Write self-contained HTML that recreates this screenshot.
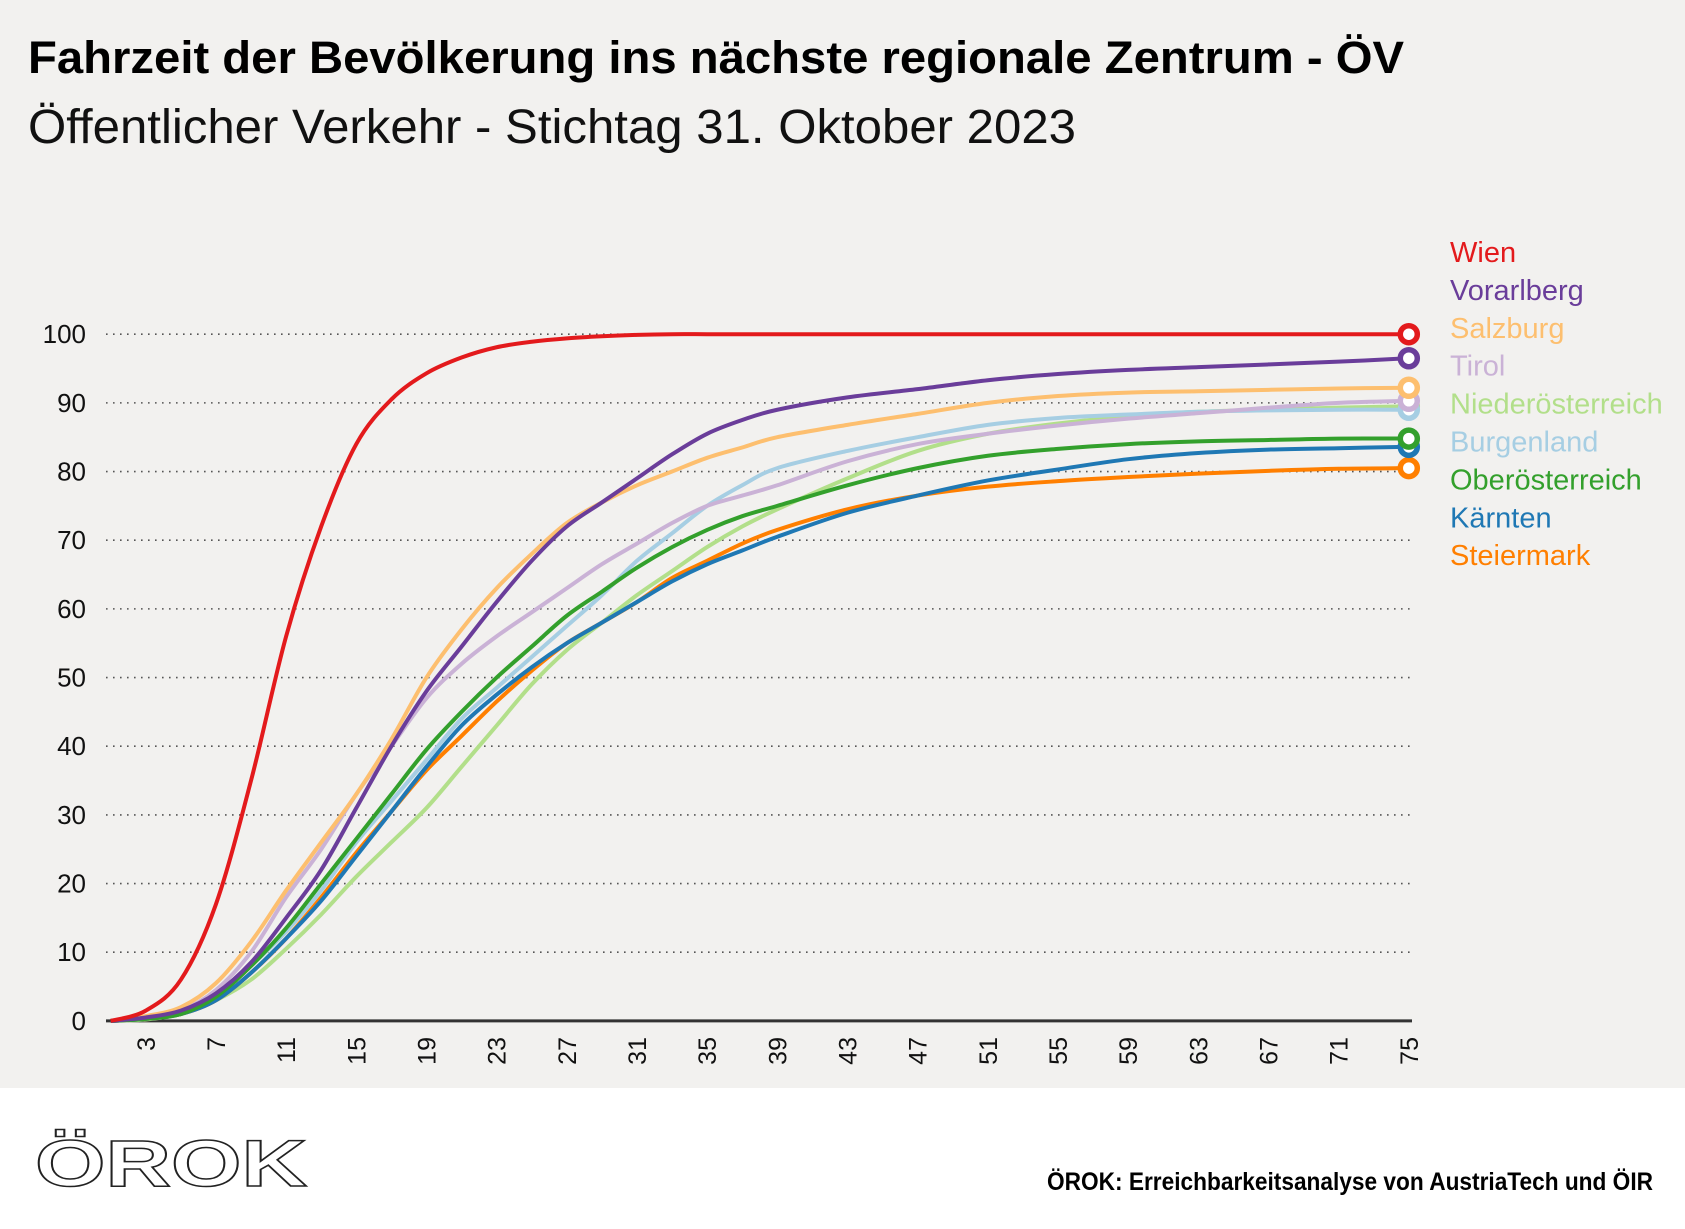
<!DOCTYPE html>
<html><head><meta charset="utf-8"><style>
body{margin:0;background:#fff;}
svg{display:block;font-family:"Liberation Sans",sans-serif;}
</style></head><body>
<svg id="chart" width="1685" height="1229" viewBox="0 0 1685 1229">
<rect x="0" y="0" width="1685" height="1088" fill="#f2f1ef"/>
<text x="28" y="73" font-size="45" font-weight="bold" fill="#000" textLength="1376" lengthAdjust="spacingAndGlyphs">Fahrzeit der Bevölkerung ins nächste regionale Zentrum - ÖV</text>
<text x="28" y="143" font-size="48" fill="#111" textLength="1048" lengthAdjust="spacingAndGlyphs">Öffentlicher Verkehr - Stichtag 31. Oktober 2023</text>
<g id="grid"></g>
<g id="yticks"></g>
<g id="xticks"></g>
<g id="lines"></g>
<g id="legend"></g>
<g>
<text x="35" y="1186" font-size="66" font-weight="bold" fill="#fff" stroke="#222" stroke-width="1.5" textLength="272" lengthAdjust="spacingAndGlyphs">ÖROK</text>
</g>
<text x="1653" y="1190" text-anchor="end" font-size="25" font-weight="bold" fill="#000" textLength="606" lengthAdjust="spacingAndGlyphs">ÖROK: Erreichbarkeitsanalyse von AustriaTech und ÖIR</text>
</svg>
<script>
const xs = [1,3,5,7,9,11,13,15,17,19,21,23,25,27,29,31,33,35,37,39,43,47,51,55,59,63,67,71,75];
const xTickLabels = [3,7,11,15,19,23,27,31,35,39,43,47,51,55,59,63,67,71,75];
const yTickLabels = [0,10,20,30,40,50,60,70,80,90,100];
const seriesNames = ["Wien","Vorarlberg","Salzburg","Tirol","Niederösterreich","Burgenland","Oberösterreich","Kärnten","Steiermark"];
const seriesColors = ["#e31a1c","#6a3d9a","#fdbf6f","#cab2d6","#b2df8a","#a6cee3","#33a02c","#1f78b4","#ff7f00"];
const wien = [0,1.5,6,17,35,56,72,84,90.5,94.3,96.6,98.1,98.9,99.4,99.7,99.9,100,100,100,100,100,100,100,100,100,100,100,100,100];
const vorarlberg = [0,0.5,1.5,4,8.5,15,22,31,40,48,54.5,61,67,72,75.5,79,82.5,85.5,87.5,89,90.8,92,93.3,94.2,94.8,95.2,95.6,96,96.5];
const salzburg = [0,0.7,2,5.5,11.5,19,26,33,41,50,57,63,68,72.5,75.5,78,80,82,83.5,85,86.8,88.4,90,91,91.5,91.7,91.9,92.1,92.2];
const tirol = [0,0.5,1.5,4.5,10,18,25,33,40,47,52,56,59.5,63,66.5,69.5,72.5,75,76.5,78,81.5,84,85.5,86.7,87.7,88.5,89.3,90,90.3];
const niederoesterreich = [0,0.2,1,3,6,10.5,15.5,21,26,31,37,43,49,54,58,62,65.5,69,72,74.5,79,83,85.5,87,88,88.7,89,89.3,89.5];
const burgenland = [0,0.3,1,3.5,8,13,19,26,32,38,44,48.5,53,57.5,62,67,71,75,78,80.5,83,85,86.8,87.8,88.3,88.7,88.9,89,89];
const oberoesterreich = [0,0.3,1,3.5,8,13.5,20,26.5,33,39.5,45,50,54.5,59,62.5,66,69,71.5,73.5,75,78,80.5,82.3,83.3,84,84.4,84.6,84.8,84.8];
const kaernten = [0,0.3,1,3,7,12,17.5,24,30.5,37,43,47.5,51.5,55,58,61,64,66.5,68.5,70.5,74,76.5,78.7,80.3,81.8,82.7,83.2,83.4,83.6];
const steiermark = [0,0.3,1,3,7,12,18,24.5,30.5,36.5,41.5,46.5,51,55,58,61,64.5,67,69.5,71.5,74.5,76.5,77.8,78.6,79.2,79.7,80.1,80.4,80.5];
const seriesValues = [wien,vorarlberg,salzburg,tirol,niederoesterreich,burgenland,oberoesterreich,kaernten,steiermark];

const NS="http://www.w3.org/2000/svg";
const X0=110.7,X1=1408.8,Y0=1020.9,Y1=334.2;
function xScale(v){return X0+(v-1)/(75-1)*(X1-X0);}
function yScale(v){return Y0+(v/100)*(Y1-Y0);}
function mk(tag,attrs,parent){const e=document.createElementNS(NS,tag);for(const k in attrs)e.setAttribute(k,attrs[k]);parent.appendChild(e);return e;}

const grid=document.getElementById('grid');
const yt=document.getElementById('yticks');
yTickLabels.forEach(v=>{
  const y=yScale(v);
  if(v>0){
    const l=mk('line',{x1:106,x2:1410,y1:y,y2:y,stroke:'#555','stroke-width':1.6,'stroke-dasharray':'1.6 5.4'},grid);
    
    
  }
  const t=mk('text',{x:86,y:y+9,'text-anchor':'end','font-size':26,fill:'#111'},yt);
  t.textContent=v;
  
  
});
const axis=mk('line',{x1:106,x2:1412,y1:Y0,y2:Y0,stroke:'#333','stroke-width':3},grid);



const xt=document.getElementById('xticks');
xTickLabels.forEach(v=>{
  const x=xScale(v);
  const t=mk('text',{x:0,y:0,'text-anchor':'end','font-size':25,fill:'#111',transform:`translate(${x+9},1037) rotate(-90)`},xt);
  t.textContent=v;
  
  
});

function pathFor(vals){
  const p=xs.map((x,i)=>[xScale(x),yScale(vals[i])]);
  let d=`M${p[0][0]},${p[0][1]}`;
  for(let i=0;i<p.length-1;i++){
    const p0=p[i-1]||p[i],p1=p[i],p2=p[i+1],p3=p[i+2]||p[i+1];
    const c1=[p1[0]+(p2[0]-p0[0])/6,p1[1]+(p2[1]-p0[1])/6];
    const c2=[p2[0]-(p3[0]-p1[0])/6,p2[1]-(p3[1]-p1[1])/6];
    d+=` C${c1[0]},${c1[1]} ${c2[0]},${c2[1]} ${p2[0]},${p2[1]}`;
  }
  return d;
}
const lines=document.getElementById('lines');
const order=[4,5,3,2,8,7,6,1,0];
order.forEach(i=>{
  const pth=mk('path',{d:pathFor(seriesValues[i]),fill:'none',stroke:seriesColors[i],'stroke-width':4,'stroke-linejoin':'round'},lines);
  
  
});
order.forEach(i=>{
  const v=seriesValues[i];
  const c=mk('circle',{cx:xScale(xs[xs.length-1]),cy:yScale(v[v.length-1]),r:8.5,fill:'#fff',stroke:seriesColors[i],'stroke-width':5.5},lines);
  
  
});

const lg=document.getElementById('legend');
seriesNames.forEach((n,i)=>{
  const t=mk('text',{x:1450,y:262+i*37.9,'font-size':29,fill:seriesColors[i]},lg);
  t.textContent=n;
  
  
});
</script>
</body></html>
